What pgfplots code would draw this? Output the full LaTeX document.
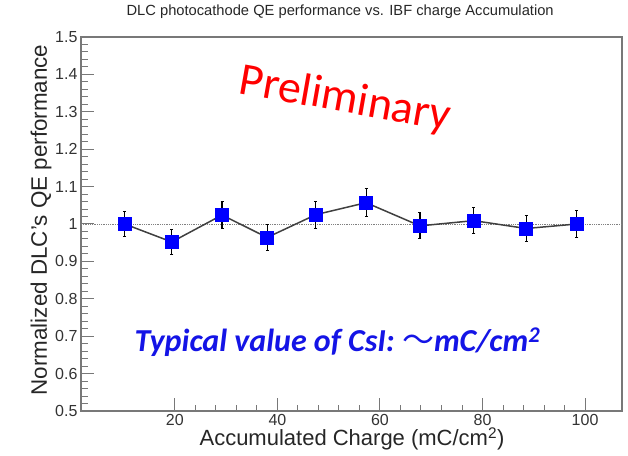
\documentclass[border=0pt]{standalone}
\usepackage{fontspec}
\setmainfont{Liberation Sans}
\newfontfamily\calibri{Carlito}
\newfontfamily\cjk{Noto Sans CJK SC}
\usepackage{pgfplots}
\pgfplotsset{compat=1.18}
\definecolor{framegray}{RGB}{120,120,120}
\definecolor{markblue}{RGB}{0,0,255}
\definecolor{txtblue}{RGB}{20,20,230}
\pgfplotstableread{
x     y      e
10.2  1.000  0.034
19.4  0.952  0.034
29.2  1.024  0.036
38.0  0.964  0.034
47.5  1.025  0.036
57.3  1.057  0.037
67.8  0.995  0.035
78.3  1.009  0.035
88.5  0.988  0.035
98.4  1.000  0.035
}\qedata
\begin{document}
\begin{tikzpicture}[x=1pt,y=1pt]
\useasboundingbox (-81,-44) rectangle (547,411);
\begin{axis}[
  at={(0,0)}, anchor=south west, scale only axis,
  width=541pt, height=374pt,
  xmin=1.7, xmax=107.2, ymin=0.5, ymax=1.5,
  clip=false,
  xtick={20,40,60,80,100}, minor x tick num=4,
  ytick={0.5,0.6,0.7,0.8,0.9,1.0,1.1,1.2,1.3,1.4,1.5}, minor y tick num=4,
  tick align=inside, xtick pos=bottom, ytick pos=left,
  major tick length=13pt, minor tick length=6.5pt,
  axis line style={framegray, line width=1.1pt},
  every tick/.style={framegray, line width=1pt},
  /pgf/number format/assume math mode=true,
  ticklabel style={font=\fontsize{16}{16}\selectfont, text=black!80},
  yticklabel style={/pgf/number format/.cd, fixed, precision=1},
  xticklabel style={/pgf/number format/.cd, fixed, precision=0},
  title={DLC photocathode QE performance vs. IBF charge Accumulation},
  every axis title/.style={at={(axis description cs:0.479,1.067)}, anchor=center,
     font=\fontsize{14.7}{14.7}\selectfont, text=black!85},
  xlabel={Accumulated Charge (mC/cm\textsuperscript{2})},
  every axis x label/.style={at={(axis description cs:0.501,-0.075)}, anchor=center,
     font=\fontsize{22}{22}\selectfont, text=black!85},
  ylabel={Normalized DLC's QE performance},
  every axis y label/.style={at={(axis description cs:-0.074,0.511)}, rotate=90, anchor=center,
     font=\fontsize{22.4}{22.4}\selectfont, text=black!85},
]
\addplot[gray, densely dotted, line width=0.8pt, forget plot] coordinates {(1.7,1) (107.2,1)};
\addplot[color=black!75, line width=1.5pt, mark=square*, mark size=6.5pt,
  mark options={fill=markblue, draw=markblue, line width=0.6pt},
  error bars/.cd, y dir=both, y explicit,
  error bar style={black, line width=1.2pt},
  error mark options={rotate=90, mark size=1.5pt, black, line width=1pt}]
  table[x=x, y=y, y error=e] {\qedata};
\node[text=red, rotate=-10, font=\calibri\fontsize{46}{46}\selectfont]
  at (axis description cs:0.488,0.832) {Preliminary};
\node[text=txtblue, font=\calibri\bfseries\itshape\fontsize{32}{32}\selectfont]
  at (axis description cs:0.474,0.184) {Typical value of CsI: {\cjk\mdseries\upshape ～}mC/cm\textsuperscript{2}};
\end{axis}
\end{tikzpicture}
\end{document}
